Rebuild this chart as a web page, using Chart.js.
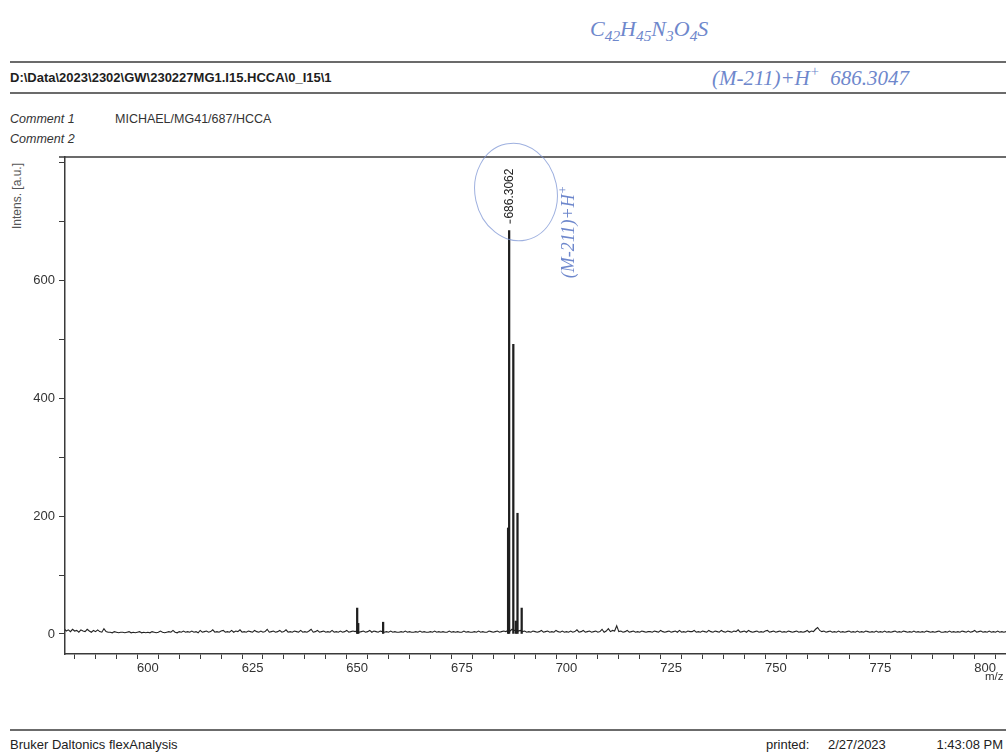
<!DOCTYPE html>
<html>
<head>
<meta charset="utf-8">
<title>flexAnalysis spectrum</title>
<script src="https://cdn.jsdelivr.net/npm/chart.js@4/dist/chart.umd.min.js"></script>
<style>
  html, body { margin: 0; padding: 0; background: #fff; }
  body { width: 1006px; height: 755px; overflow: hidden; position: relative;
         font-family: "Liberation Sans", Arial, sans-serif; color: #222; }
  .rule { position: absolute; left: 10px; right: 0; height: 2px; background: #6b6b6b; }
  .t { position: absolute; white-space: nowrap; line-height: 1; }
  .hand { position: absolute; white-space: nowrap; line-height: 1; color: #5573c4;
          font-family: "Liberation Serif", serif; font-style: italic; opacity: .85; }
  .hand sub { font-size: 70%; vertical-align: -0.35em; }
  .hand sup { font-size: 70%; vertical-align: 0.6em; }
  #wrap { position: absolute; left: 0; top: 140px; width: 1006px; height: 560px; }
  svg.ann { position: absolute; left: 0; top: 0; pointer-events: none; }
</style>
</head>
<body>

<div class="rule" style="top:61px"></div>
<div class="t" style="left:10px;top:71px;font-size:13px;font-weight:bold;color:#1e1e1e">D:\Data\2023\2302\GW\230227MG1.I15.HCCA\0_I15\1</div>
<div class="rule" style="top:92px"></div>

<div class="t" style="left:10px;top:113px;font-size:12.5px;font-style:italic;color:#333">Comment 1</div>
<div class="t" style="left:115px;top:113px;font-size:12.5px;color:#333">MICHAEL/MG41/687/HCCA</div>
<div class="t" style="left:10px;top:133px;font-size:12.5px;font-style:italic;color:#333">Comment 2</div>

<div class="t" style="left:17px;top:196px;font-size:12px;color:#555;transform:translate(-50%,-50%) rotate(-90deg)">Intens. [a.u.]</div>

<div id="wrap"><canvas id="spec" width="1006" height="560"></canvas></div>

<div class="t" style="left:985px;top:671px;font-size:11.5px;color:#333">m/z</div>

<div class="rule" style="top:729px"></div>
<div class="t" style="left:10px;top:738px;font-size:13px;color:#222">Bruker Daltonics flexAnalysis</div>
<div class="t" style="left:766px;top:738px;font-size:13px;color:#222">printed:</div>
<div class="t" style="left:828px;top:738px;font-size:13px;color:#222">2/27/2023</div>
<div class="t" style="right:3px;top:738px;font-size:13px;color:#222">1:43:08 PM</div>

<!-- handwritten notes on the printout -->
<div class="hand" style="left:590px;top:18px;font-size:22px">C<sub>42</sub>H<sub>45</sub>N<sub>3</sub>O<sub>4</sub>S</div>
<div class="hand" style="left:712px;top:64px;font-size:21px">(M-211)+H<sup>+</sup>&nbsp;&nbsp;686.3047</div>
<div class="hand" style="left:567px;top:232px;font-size:18px;transform:translate(-50%,-50%) rotate(-90deg)">(M-211)+H<sup>+</sup></div>
<svg class="ann" width="1006" height="755">
  <ellipse cx="516" cy="192" rx="41" ry="49" transform="rotate(-12 516 192)"
           fill="none" stroke="#7d95d4" stroke-width="1" opacity="0.75"/>
</svg>

<script>
// Baseline noise of the spectrum, one reading every 0.5 m/z starting at 580.
const noiseMzStart = 580;
const noiseMzStep = 0.5;
const noiseIntensity = [
  9, 5, 7, 4, 8, 5, 6, 3, 7, 5,   // 580
  4, 8, 5, 3, 6, 4, 7, 4, 3, 9,   // 585
  4, 3, 3, 2, 4, 3, 2, 3, 3, 2,   // 590
  3, 4, 2, 3, 2, 3, 4, 2, 3, 2,   // 595
  3, 2, 4, 3, 2, 3, 5, 3, 2, 3,   // 600
  4, 3, 6, 3, 2, 4, 3, 5, 3, 4,   // 605
  3, 5, 3, 4, 2, 6, 3, 4, 5, 3,   // 610
  4, 7, 3, 4, 3, 5, 6, 3, 4, 3,   // 615
  6, 3, 5, 4, 7, 3, 4, 3, 5, 4,   // 620
  3, 6, 4, 3, 5, 3, 4, 8, 3, 4,   // 625
  5, 3, 4, 6, 3, 4, 7, 3, 4, 3,   // 630
  5, 4, 3, 6, 3, 4, 3, 5, 8, 3,   // 635
  4, 6, 3, 4, 5, 3, 4, 3, 6, 3,   // 640
  4, 3, 5, 3, 4, 6, 3, 4, 5, 4,   // 645
  6, 3, 4, 5, 3, 4, 6, 3, 5, 4,   // 650
  3, 5, 4, 3, 4, 3, 5, 3, 4, 3,   // 655
  3, 4, 3, 5, 3, 4, 3, 3, 4, 3,   // 660
  5, 3, 4, 3, 3, 4, 3, 5, 3, 4,   // 665
  3, 4, 3, 3, 5, 3, 4, 3, 4, 3,   // 670
  3, 5, 3, 4, 3, 3, 4, 3, 5, 3,   // 675
  4, 3, 3, 5, 4, 3, 4, 5, 3, 4,   // 680
  5, 4, 6, 5, 8, 6, 7, 5, 6, 4,   // 685
  5, 3, 4, 3, 5, 4, 3, 4, 6, 3,   // 690
  4, 5, 3, 4, 3, 6, 4, 3, 5, 3,   // 695
  4, 3, 5, 3, 4, 7, 3, 4, 6, 3,   // 700
  4, 5, 3, 4, 5, 3, 4, 8, 3, 5,   // 705
  9, 4, 6, 5, 14, 4, 5, 3, 4, 6,  // 710
  3, 4, 5, 3, 4, 3, 5, 4, 3, 4,   // 715
  4, 3, 5, 4, 3, 6, 4, 3, 4, 5,   // 720
  3, 4, 5, 3, 6, 3, 4, 3, 5, 4,   // 725
  4, 6, 3, 4, 3, 5, 4, 3, 6, 4,   // 730
  3, 5, 4, 3, 6, 4, 3, 5, 4, 3,   // 735
  5, 4, 7, 3, 4, 5, 3, 6, 4, 3,   // 740
  4, 5, 3, 4, 3, 5, 6, 3, 4, 5,   // 745
  3, 4, 5, 3, 4, 3, 5, 4, 3, 4,   // 750
  5, 3, 4, 3, 4, 6, 3, 5, 4, 8,   // 755
  11, 6, 4, 5, 3, 4, 5, 3, 4, 3,  // 760
  5, 3, 4, 3, 4, 5, 3, 4, 3, 5,   // 765
  3, 4, 3, 5, 4, 3, 4, 3, 5, 3,   // 770
  4, 3, 5, 3, 4, 3, 4, 5, 3, 4,   // 775
  3, 5, 4, 3, 4, 3, 5, 3, 4, 3,   // 780
  4, 3, 5, 4, 3, 4, 3, 4, 5, 3,   // 785
  3, 4, 3, 5, 3, 4, 3, 4, 3, 5,   // 790
  4, 3, 5, 3, 4, 6, 3, 4, 5, 3,   // 795
  4, 3, 5, 3, 4, 3, 5, 3, 4, 3,   // 800
  4                               // 805
];

// Centroided peaks drawn as sticks.
const peakMz        = [650.0, 650.25, 656.2, 686.05, 686.3062, 687.3, 687.9, 688.3, 689.3];
const peakIntensity = [44,    18,     20,    180,    685,      492,   22,    205,   44];

// Annotated peak.
const labelMz = 686.3062;
const labelIntensity = 685;
const labelText = '686.3062';

// Axis ticks.
const xTickValues = [585, 590, 595, 600, 605, 610, 615, 620, 625, 630, 635, 640, 645, 650,
  655, 660, 665, 670, 675, 680, 685, 690, 695, 700, 705, 710, 715, 720, 725, 730, 735, 740,
  745, 750, 755, 760, 765, 770, 775, 780, 785, 790, 795, 800, 805];
const xTickLabels = [600, 625, 650, 675, 700, 725, 750, 775, 800];
const yTickValues = [0, 100, 200, 300, 400, 500, 600, 700, 800];
const yTickLabels = [0, 200, 400, 600];

const axisColor = '#3a3a3a';
const tickFont = { family: '"Liberation Sans", Arial, sans-serif', size: 13 };

const noiseSeries = noiseIntensity.map((v, i) => ({ x: noiseMzStart + i * noiseMzStep, y: v }));
const peakSeries = peakMz.map((m, i) => ({ x: m, y: peakIntensity[i] }));

// Top frame line of the plot box.
const frameTop = {
  id: 'frameTop',
  afterDraw(chart) {
    const { ctx, chartArea } = chart;
    ctx.save();
    ctx.strokeStyle = axisColor;
    ctx.lineWidth = 1.5;
    ctx.beginPath();
    ctx.moveTo(chartArea.left - 6, chartArea.top);
    ctx.lineTo(chart.width, chartArea.top);
    ctx.stroke();
    ctx.restore();
  }
};

// Vertical m/z label above the annotated peak.
const peakLabel = {
  id: 'peakLabel',
  afterDatasetsDraw(chart) {
    const { ctx, scales } = chart;
    const x = scales.x.getPixelForValue(labelMz);
    const y = scales.y.getPixelForValue(labelIntensity);
    ctx.save();
    ctx.translate(x + 1, y - 7);
    ctx.rotate(-Math.PI / 2);
    ctx.strokeStyle = '#222';
    ctx.lineWidth = 1;
    ctx.beginPath();
    ctx.moveTo(0, 0);
    ctx.lineTo(4, 0);
    ctx.stroke();
    ctx.fillStyle = '#222';
    ctx.font = '12px "Liberation Sans", Arial, sans-serif';
    ctx.textAlign = 'left';
    ctx.textBaseline = 'middle';
    ctx.fillText(labelText, 5, 0);
    ctx.restore();
  }
};

new Chart(document.getElementById('spec'), {
  type: 'line',
  data: {
    datasets: [
      {
        type: 'bar',
        data: peakSeries,
        backgroundColor: '#1f1f1f',
        borderWidth: 0,
        barThickness: 1.6,
        order: 1
      },
      {
        type: 'line',
        data: noiseSeries,
        borderColor: '#222',
        borderWidth: 1.1,
        pointRadius: 0,
        tension: 0,
        order: 2
      }
    ]
  },
  options: {
    animation: false,
    responsive: false,
    devicePixelRatio: 1,
    layout: { padding: { top: 17, left: 0, right: 0, bottom: 0 } },
    plugins: { legend: { display: false }, tooltip: { enabled: false } },
    scales: {
      x: {
        type: 'linear',
        min: 580.2,
        max: 805,
        offset: false,
        afterBuildTicks: s => { s.ticks = xTickValues.map(v => ({ value: v })); },
        afterFit: s => { s.height = 46; s.paddingLeft = 0; s.paddingRight = 0; },
        grid: { drawOnChartArea: false, drawTicks: true, tickLength: 5, tickColor: axisColor, tickWidth: 1 },
        border: { display: true, color: axisColor, width: 1.5 },
        ticks: {
          autoSkip: false, maxRotation: 0, minRotation: 0, padding: 2,
          color: '#333', font: tickFont,
          callback: v => xTickLabels.includes(v) ? String(v) : ''
        }
      },
      y: {
        min: -34,
        max: 810,
        afterBuildTicks: s => { s.ticks = yTickValues.map(v => ({ value: v })); },
        afterFit: s => { s.width = 65; },
        grid: { drawOnChartArea: false, drawTicks: true, tickLength: 6, tickColor: axisColor, tickWidth: 1 },
        border: { display: true, color: axisColor, width: 1.5 },
        ticks: {
          padding: 4, color: '#333', font: tickFont,
          callback: v => yTickLabels.includes(v) ? String(v) : ''
        }
      }
    }
  },
  plugins: [frameTop, peakLabel]
});
</script>
</body>
</html>
